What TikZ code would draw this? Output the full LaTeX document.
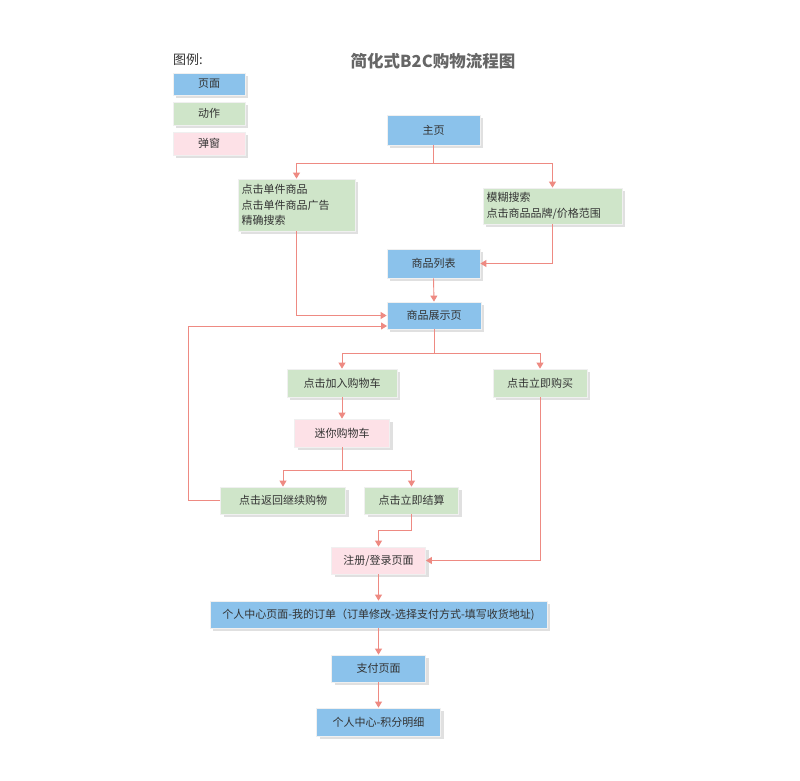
\documentclass[tikz,border=0pt]{standalone}
\usepackage{fontspec}
\setmainfont{Noto Sans CJK SC}
\usetikzlibrary{arrows.meta,shadows}
\definecolor{pageblue}{HTML}{8BC2EB}
\definecolor{actgreen}{HTML}{CFE5C9}
\definecolor{popink}{HTML}{FDE1E7}
\definecolor{linered}{HTML}{EE8A82}
\definecolor{txt}{HTML}{333333}
\definecolor{ttl}{HTML}{666666}
\tikzset{
  box/.style={draw=black!6, line width=0.8pt, inner sep=3pt, text=txt,
    font=\fontsize{11}{15.5}\selectfont,
    drop shadow={shadow xshift=3pt, shadow yshift=-3pt, fill=black!12, opacity=1}},
  pagebox/.style={box, fill=pageblue},
  actbox/.style={box, fill=actgreen},
  popbox/.style={box, fill=popink},
  arr/.style={draw=linered, line width=0.9pt, -{Triangle[width=7pt,length=6pt]}},
  ln/.style={draw=linered, line width=0.9pt},
}
\begin{document}
\begin{tikzpicture}[x=1pt,y=-1pt]
\useasboundingbox[fill=white] (0,0) rectangle (800,780);
% legend
\node[anchor=west, inner sep=0pt, text=txt, font=\fontsize{13}{15}\selectfont] (lg) at (173,60) {图例:};
\node[pagebox, minimum width=72pt, minimum height=22pt] (l1) at (209,84) {页面};
\node[actbox, minimum width=72pt, minimum height=23pt] (l2) at (209,113.5) {动作};
\node[popbox, minimum width=72pt, minimum height=23pt] (l3) at (209,143.5) {弹窗};
% title
\node[text=ttl, font=\fontsize{16.5}{18}\selectfont\bfseries] (title) at (433,61) {简化式B2C购物流程图};
% nodes
\node[pagebox, minimum width=93pt, minimum height=30pt] (home) at (433.5,130) {主页};
\node[actbox, minimum width=117pt, minimum height=52pt, text width=110pt, align=left] (a1) at (296.5,205)
  {点击单件商品\\点击单件商品广告\\精确搜索};
\node[actbox, minimum width=139pt, minimum height=36pt, text width=132pt, align=left] (a2) at (552.5,206)
  {模糊搜索\\点击商品品牌/价格范围};
\node[pagebox, minimum width=93pt, minimum height=29pt] (list) at (433.5,263.5) {商品列表};
\node[pagebox, minimum width=94pt, minimum height=27pt] (show) at (434,315.5) {商品展示页};
\node[actbox, minimum width=110pt, minimum height=28pt] (cart) at (342,383) {点击加入购物车};
\node[actbox, minimum width=94pt, minimum height=28pt] (buy) at (540,383) {点击立即购买};
\node[popbox, minimum width=95pt, minimum height=28pt] (mini) at (342,433) {迷你购物车};
\node[actbox, minimum width=125pt, minimum height=27pt] (back) at (283,500.5) {点击返回继续购物};
\node[actbox, minimum width=94pt, minimum height=27pt] (settle) at (411.5,500.5) {点击立即结算};
\node[popbox, minimum width=94pt, minimum height=27pt] (reg) at (378.5,560.5) {注册/登录页面};
\node[pagebox, minimum width=337pt, minimum height=27pt] (order) at (378.5,614.5) {个人中心页面-我的订单（订单修改-选择支付方式-填写收货地址)};
\node[pagebox, minimum width=94pt, minimum height=27pt] (pay) at (378.5,668.5) {支付页面};
\node[pagebox, minimum width=124pt, minimum height=28pt] (pts) at (378.5,722) {个人中心-积分明细};
% helper coordinates
\coordinate (j1) at (433.5,163);
\coordinate (j2) at (434,353);
\coordinate (j3) at (342,470);
\coordinate (j4) at (411.5,530);
\coordinate (lp1) at (188,500.5);
\coordinate (lp2) at (188,326);
\coordinate (lp3) at (387,326);
% connectors
\draw[ln] (home.south) -- (j1);
\draw[arr] (j1) -| (a1.north);
\draw[arr] (j1) -| (a2.north);
\draw[arr] (a2.south) |- (list.east);
\draw[arr] (list.south) -- (show.north);
\draw[arr] (a1.south) |- (show.west);
\draw[ln] (show.south) -- (j2);
\draw[arr] (j2) -| (cart.north);
\draw[arr] (j2) -| (buy.north);
\draw[arr] (cart.south) -- (mini.north);
\draw[ln] (mini.south) -- (j3);
\draw[arr] (j3) -| (back.north);
\draw[arr] (j3) -| (settle.north);
\draw[arr] (back.west) -- (lp1) -- (lp2) -- (lp3);
\draw[ln] (settle.south) -- (j4);
\draw[arr] (j4) -| (reg.north);
\draw[arr] (buy.south) |- (reg.east);
\draw[arr] (reg.south) -- (order.north);
\draw[arr] (order.south) -- (pay.north);
\draw[arr] (pay.south) -- (pts.north);
\end{tikzpicture}
\end{document}
